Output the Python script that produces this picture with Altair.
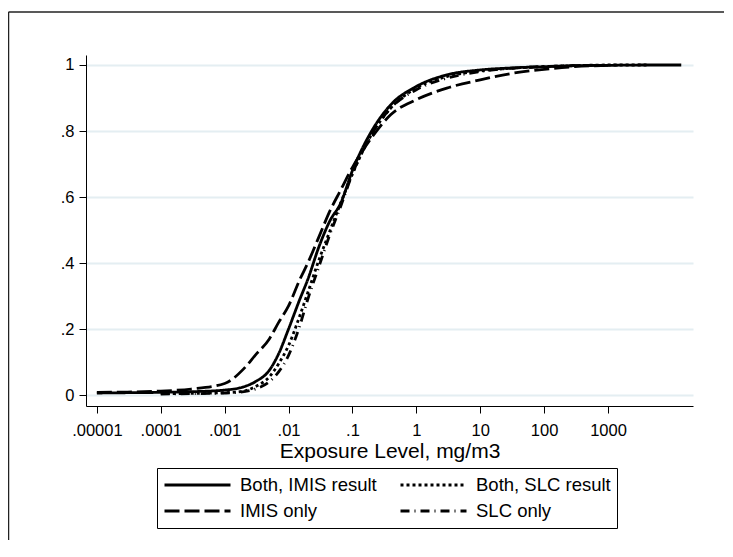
import json
import altair as alt
import pandas as pd

# ---------------- data ----------------
exposure = [1e-5, 3e-5, 1e-4, 3e-4, 1e-3, 2e-3, 3e-3, 5e-3, 7e-3, 0.01, 0.015, 0.02,
            0.03, 0.045, 0.065, 0.1, 0.2, 0.4, 1, 3, 10, 30, 100, 300, 1000, 4000, 14000]

both_imis = [0.006, 0.007, 0.008, 0.010, 0.015, 0.025, 0.040, 0.075, 0.125, 0.20, 0.29, 0.35,
             0.45, 0.53, 0.58, 0.68, 0.80, 0.88, 0.935, 0.97, 0.985, 0.991, 0.995, 0.998, 0.999, 1.0, 1.0]
imis_only = [0.008, 0.009, 0.012, 0.018, 0.035, 0.080, 0.120, 0.170, 0.220, 0.27, 0.35, 0.40,
             0.48, 0.56, 0.62, 0.69, 0.78, 0.85, 0.895, 0.93, 0.955, 0.974, 0.987, 0.995, 0.999, None, None]
both_slc = [None, None, 0.004, 0.005, 0.007, 0.012, 0.025, 0.055, 0.095, 0.15, 0.24, 0.31,
            0.41, 0.50, 0.58, 0.67, 0.79, 0.87, 0.93, 0.965, 0.982, 0.990, 0.995, 0.998, 1.0, 1.0, None]
slc_only = [None, None, 0.003, 0.004, 0.006, 0.010, 0.018, 0.040, 0.070, 0.12, 0.21, 0.29,
            0.39, 0.49, 0.57, 0.67, 0.79, 0.87, 0.925, 0.96, 0.98, 0.990, 0.995, 0.998, 0.999, None, None]

# legend fills column by column: column 1 = first two, column 2 = last two
series_names = ["Both, IMIS result", "IMIS only", "Both, SLC result", "SLC only"]
series_values = [both_imis, imis_only, both_slc, slc_only]
dash_patterns = [[1, 0], [15, 5], [3, 3], [9, 5, 1, 5]]

x_tick_values = [1e-5, 1e-4, 1e-3, 1e-2, 1e-1, 1, 10, 100, 1000]
x_tick_labels = [".00001", ".0001", ".001", ".01", ".1", "1", "10", "100", "1000"]
y_tick_values = [0, 0.2, 0.4, 0.6, 0.8, 1]
y_tick_labels = ["0", ".2", ".4", ".6", ".8", "1"]

rows = []
for name, vals in zip(series_names, series_values):
    for xv, yv in zip(exposure, vals):
        if yv is not None:
            rows.append({"exposure": xv, "cdf": yv, "series": name})
df = pd.DataFrame(rows)

x_expr = f"{json.dumps(x_tick_labels)}[indexof({json.dumps(x_tick_values)}, datum.value)]"
y_expr = f"{json.dumps(y_tick_labels)}[indexof({json.dumps(y_tick_values)}, datum.value)]"

FONT = "Liberation Sans"

lines = alt.Chart(df).mark_line(
    color="black", strokeWidth=2.8, interpolate="monotone", clip=True
).encode(
    x=alt.X(
        "exposure:Q",
        scale=alt.Scale(type="log", domain=[6.76e-6, 21380], nice=False, zero=False),
        axis=alt.Axis(
            values=x_tick_values, labelExpr=x_expr, grid=False, tickSize=7,
            labelPadding=9, labelFontSize=16.5, labelFont=FONT, labelColor="black",
            labelFlush=False, labelOverlap=False,
            domainColor="black", tickColor="black", domainWidth=1,
            title="Exposure Level, mg/m3", titleFont=FONT, titleFontSize=21,
            titleFontWeight="normal", titleColor="black", titlePadding=2,
        ),
    ),
    y=alt.Y(
        "cdf:Q",
        scale=alt.Scale(domain=[-0.0333, 1.0303], nice=False, zero=False),
        axis=alt.Axis(
            values=y_tick_values, labelExpr=y_expr, grid=True, gridColor="#e4eef2",
            gridWidth=2, tickSize=7, labelPadding=5, labelFontSize=16.5, labelFont=FONT,
            labelColor="black", domainColor="black", tickColor="black", domainWidth=1,
            title=None,
        ),
    ),
    strokeDash=alt.StrokeDash(
        "series:N",
        scale=alt.Scale(domain=series_names, range=dash_patterns),
        legend=alt.Legend(
            title=None, orient="none", legendX=71, legendY=413, columns=2,
            symbolType="stroke", symbolSize=4356, symbolStrokeWidth=2.8,
            symbolStrokeColor="black", clipHeight=22, labelFontSize=18.5,
            labelFont=FONT, labelColor="black", labelOffset=8, padding=6,
            rowPadding=4, columnPadding=22, strokeColor="black", fillColor="white",
            labelLimit=400,
        ),
    ),
)

one = alt.Data(values=[{}])
frame_top = alt.Chart(one).mark_rule(color="#222", strokeWidth=1.5).encode(
    x=alt.value(-77.5), x2=alt.value(700), y=alt.value(-43)
)
frame_left = alt.Chart(one).mark_rule(color="#222", strokeWidth=1.5).encode(
    x=alt.value(-77.5), y=alt.value(-43), y2=alt.value(520)
)

chart = alt.layer(frame_top, frame_left, lines).properties(
    width=607, height=351,
    padding={"left": 78, "top": 47, "right": 31, "bottom": 134},
    autosize=alt.AutoSizeParams(type="none"),
    background="white",
).configure_view(stroke=None)

chart.save("out.html", embed_options={"renderer": "svg", "actions": False})
